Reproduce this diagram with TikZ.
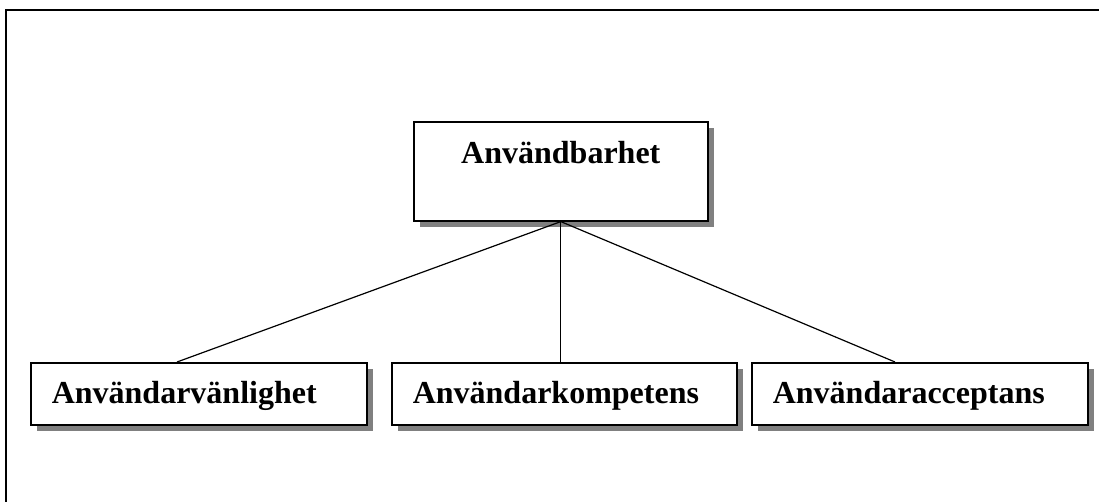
\documentclass[tikz,border=0pt]{standalone}
\usepackage{fontspec}
\setmainfont{Liberation Serif}
\usetikzlibrary{shadows}
\begin{document}
\begin{tikzpicture}[x=1pt,y=-1pt,
  box/.style={draw=black, line width=1.6pt, fill=white, inner sep=0pt,
    font=\fontsize{32}{36}\selectfont\bfseries,
    drop shadow={shadow xshift=6pt, shadow yshift=-6pt, fill=black!50, opacity=1}},
  topbox/.style={box, anchor=north west, minimum width=294pt, text height=42pt, text depth=57pt, align=center},
  subbox/.style={box, anchor=north west, inner xsep=21pt, text height=41pt, text depth=21pt, align=left},
  link/.style={line width=1.2pt}]
\useasboundingbox (0,0) rectangle (1099,502);
\draw[line width=2pt] (6,502) -- (6,10) -- (1099,10);
\node[topbox] (top) at (413,121) {Användbarhet};
\node[subbox, text width=294pt] (a) at (30,362) {Användarvänlighet};
\node[subbox, text width=303pt] (b) at (391,362) {Användarkompetens};
\node[subbox, text width=294pt] (c) at (751,362) {Användaracceptans};
\coordinate (ta) at (177,362);
\coordinate (tc) at (895,362);
\draw[link] (top.south) -- (a.north -| ta);
\draw[link] (top.south) -- (b.north -| top.south);
\draw[link] (top.south) -- (c.north -| tc);
\end{tikzpicture}
\end{document}
